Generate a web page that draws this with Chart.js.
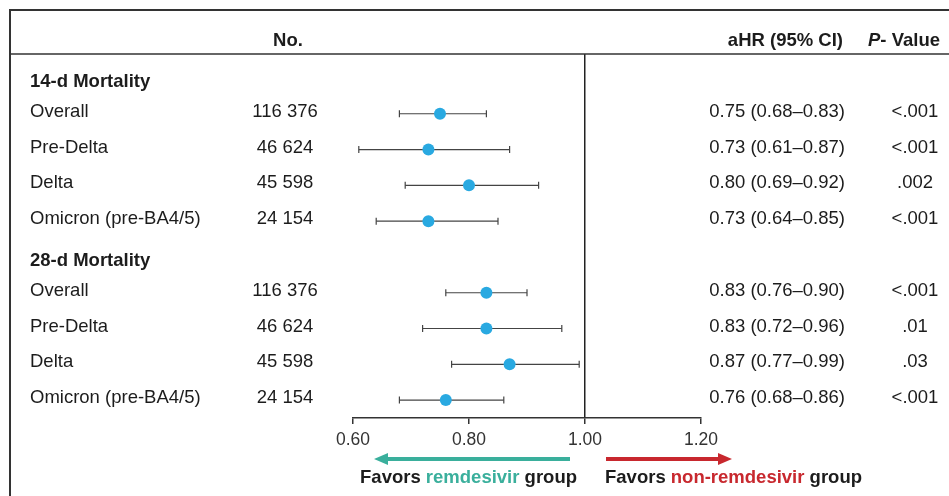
<!DOCTYPE html>
<html>
<head>
<meta charset="utf-8">
<script src="https://cdn.jsdelivr.net/npm/chart.js@4"></script>
<style>
  body { margin: 0; background: #fff; }
  #wrap { width: 949px; height: 496px; }
</style>
</head>
<body>
<div id="wrap"><canvas id="forestChart"></canvas></div>
<script>
// --- data ---
const groups = ["14-d Mortality", "28-d Mortality"];
const subgroups = ["Overall", "Pre-Delta", "Delta", "Omicron (pre-BA4/5)"];
const patientCounts = ["116 376", "46 624", "45 598", "24 154"];
const hr14 = [0.75, 0.73, 0.80, 0.73];
const lower14 = [0.68, 0.61, 0.69, 0.64];
const upper14 = [0.83, 0.87, 0.92, 0.85];
const p14 = ["<.001", "<.001", ".002", "<.001"];
const hr28 = [0.83, 0.83, 0.87, 0.76];
const lower28 = [0.76, 0.72, 0.77, 0.68];
const upper28 = [0.90, 0.96, 0.99, 0.86];
const p28 = ["<.001", ".01", ".03", "<.001"];
const xTicks = [0.6, 0.8, 1.0, 1.2];

const FONT = "'Liberation Sans', Arial, sans-serif";
const TEXT = "#1c1c1c";
const LINE = "#333";

// one header row per group, then its subgroups
const rows = [];
[[hr14, lower14, upper14, p14], [hr28, lower28, upper28, p28]].forEach(([hr, lo, hi, p], g) => {
  rows.push({ header: groups[g] });
  subgroups.forEach((name, i) => {
    rows.push({ name, n: patientCounts[i], hr: hr[i], lo: lo[i], hi: hi[i], p: p[i] });
  });
});

const pointData = [];
const ciDatasets = [];
rows.forEach((r, idx) => {
  if (r.header) return;
  pointData.push({ x: r.hr, y: idx });
  ciDatasets.push({
    data: [{ x: r.lo, y: idx }, { x: r.hi, y: idx }],
    showLine: true,
    borderColor: "#444",
    borderWidth: 1.2,
    pointStyle: "line",
    pointRotation: 90,
    pointRadius: 3.5,
    pointBorderColor: "#444",
    pointBorderWidth: 1.2,
  });
});

function drawArrow(ctx, x0, x1, y, color) {
  const dir = Math.sign(x1 - x0);
  ctx.strokeStyle = color;
  ctx.fillStyle = color;
  ctx.lineWidth = 4;
  ctx.beginPath();
  ctx.moveTo(x0, y);
  ctx.lineTo(x1 - dir * 12, y);
  ctx.stroke();
  ctx.beginPath();
  ctx.moveTo(x1, y);
  ctx.lineTo(x1 - dir * 14, y - 6);
  ctx.lineTo(x1 - dir * 14, y + 6);
  ctx.closePath();
  ctx.fill();
}

// draws table text, frame lines and the direction arrows
const tablePlugin = {
  id: "forestTable",
  afterDraw(chart) {
    const ctx = chart.ctx;
    const xs = chart.scales.x;
    const ys = chart.scales.y;
    const W = chart.width;
    ctx.save();

    // frame
    ctx.strokeStyle = LINE;
    ctx.lineWidth = 2;
    ctx.beginPath();
    ctx.moveTo(10, 496);
    ctx.lineTo(10, 10);
    ctx.lineTo(W, 10);
    ctx.stroke();
    ctx.lineWidth = 1.5;
    ctx.beginPath();
    ctx.moveTo(10, 54);
    ctx.lineTo(W, 54);
    ctx.stroke();

    // column headers
    ctx.fillStyle = TEXT;
    ctx.textBaseline = "middle";
    ctx.font = "bold 18.5px " + FONT;
    ctx.textAlign = "center";
    ctx.fillText("No.", 288, 41);
    ctx.textAlign = "right";
    ctx.fillText("aHR (95% CI)", 843, 41);
    ctx.textAlign = "left";
    ctx.font = "italic bold 18.5px " + FONT;
    ctx.fillText("P", 868, 41);
    const pw = ctx.measureText("P").width;
    ctx.font = "bold 18.5px " + FONT;
    ctx.fillText("- Value", 868 + pw, 41);

    // rows
    rows.forEach((r, idx) => {
      const y = ys.getPixelForValue(idx);
      if (r.header) {
        ctx.font = "bold 18.5px " + FONT;
        ctx.textAlign = "left";
        ctx.fillText(r.header, 30, y + 4);
        return;
      }
      const ty = y - 2;
      ctx.font = "18.5px " + FONT;
      ctx.textAlign = "left";
      ctx.fillText(r.name, 30, ty);
      ctx.textAlign = "center";
      ctx.fillText(r.n, 285, ty);
      ctx.textAlign = "right";
      ctx.fillText(`${r.hr.toFixed(2)} (${r.lo.toFixed(2)}\u2013${r.hi.toFixed(2)})`, 845, ty);
      ctx.textAlign = "center";
      ctx.fillText(r.p, 915, ty);
    });

    // favours arrows
    const x1 = xs.getPixelForValue(1);
    drawArrow(ctx, x1 - 15, x1 - 211, 459, "#3aaf9c");
    drawArrow(ctx, x1 + 21, x1 + 147, 459, "#c8282e");

    ctx.font = "bold 18.5px " + FONT;
    ctx.textAlign = "left";
    const t1 = ["Favors ", "remdesivir", " group"];
    const w1 = t1.reduce((s, t) => s + ctx.measureText(t).width, 0);
    let cx = x1 - 8 - w1;
    [TEXT, "#3aaf9c", TEXT].forEach((c, i) => {
      ctx.fillStyle = c;
      ctx.fillText(t1[i], cx, 478);
      cx += ctx.measureText(t1[i]).width;
    });
    const t2 = ["Favors ", "non-remdesivir", " group"];
    cx = x1 + 20;
    [TEXT, "#c8282e", TEXT].forEach((c, i) => {
      ctx.fillStyle = c;
      ctx.fillText(t2[i], cx, 478);
      cx += ctx.measureText(t2[i]).width;
    });

    ctx.restore();
  },
};

new Chart(document.getElementById("forestChart"), {
  type: "scatter",
  data: {
    datasets: [
      {
        data: pointData,
        backgroundColor: "#29a9e1",
        borderColor: "#29a9e1",
        pointRadius: 6,
        pointBorderWidth: 0,
      },
      ...ciDatasets,
    ],
  },
  options: {
    responsive: true,
    maintainAspectRatio: false,
    animation: false,
    events: [],
    layout: { padding: { left: 353, right: 248, top: 54, bottom: 39 } },
    plugins: { legend: { display: false }, tooltip: { enabled: false } },
    scales: {
      x: {
        type: "linear",
        min: 0.6,
        max: 1.2,
        afterBuildTicks: (s) => {
          s.ticks = xTicks.map((v) => ({ value: v }));
        },
        ticks: {
          font: { family: FONT, size: 17.5 },
          color: "#333",
          padding: 6,
          callback: (v) => Number(v).toFixed(2),
        },
        grid: {
          color: (c) => (c.tick && c.tick.value === 1 ? "#222" : "rgba(0,0,0,0)"),
          lineWidth: 1.5,
          tickColor: LINE,
          tickWidth: 1.5,
          tickLength: 6,
        },
        border: { display: true, color: LINE, width: 1.5 },
      },
      y: {
        type: "linear",
        display: false,
        reverse: true,
        min: -0.67,
        max: 9.5,
      },
    },
  },
  plugins: [tablePlugin],
});
</script>
</body>
</html>
